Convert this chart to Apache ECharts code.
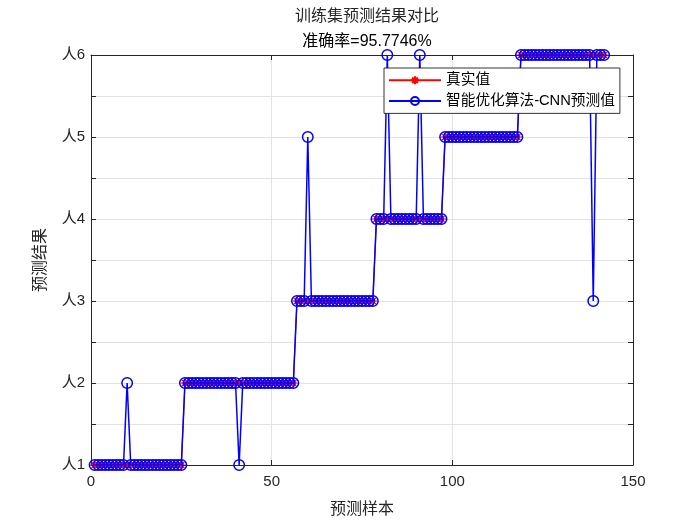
<!DOCTYPE html>
<html>
<head>
<meta charset="utf-8">
<script src="https://cdn.jsdelivr.net/npm/echarts@6/dist/echarts.min.js"></script>
<style>html,body{margin:0;padding:0;background:#fff}#c{width:700px;height:525px}</style>
</head>
<body>
<div id="c"></div>
<script>
const titleText = '训练集预测结果对比';
const subTitleText = '准确率=95.7746%';
const xName = '预测样本';
const yName = '预测结果';
const seriesNames = ['真实值', '智能优化算法-CNN预测值'];
const xTicks = [0, 50, 100, 150];
const yTickLabels = ['人1', '人2', '人3', '人4', '人5', '人6'];

const trueVals = [
  1,1,1,1,1,1,1,1,1,1,
  1,1,1,1,1,1,1,1,1,1,
  1,1,1,1,1,2,2,2,2,2,
  2,2,2,2,2,2,2,2,2,2,
  2,2,2,2,2,2,2,2,2,2,
  2,2,2,2,2,2,3,3,3,3,
  3,3,3,3,3,3,3,3,3,3,
  3,3,3,3,3,3,3,3,4,4,
  4,4,4,4,4,4,4,4,4,4,
  4,4,4,4,4,4,4,5,5,5,
  5,5,5,5,5,5,5,5,5,5,
  5,5,5,5,5,5,5,5,6,6,
  6,6,6,6,6,6,6,6,6,6,
  6,6,6,6,6,6,6,6,6,6,
  6,6
];
const predVals = [
  1,1,1,1,1,1,1,1,1,2,
  1,1,1,1,1,1,1,1,1,1,
  1,1,1,1,1,2,2,2,2,2,
  2,2,2,2,2,2,2,2,2,2,
  1,2,2,2,2,2,2,2,2,2,
  2,2,2,2,2,2,3,3,3,5,
  3,3,3,3,3,3,3,3,3,3,
  3,3,3,3,3,3,3,3,4,4,
  4,6,4,4,4,4,4,4,4,4,
  6,4,4,4,4,4,4,5,5,5,
  5,5,5,5,5,5,5,5,5,5,
  5,5,5,5,5,5,5,5,6,6,
  6,6,6,6,6,6,6,6,6,6,
  6,6,6,6,6,6,6,6,3,6,
  6,6
];

const FONT = 'Liberation Sans, "Noto Sans CJK SC", sans-serif';
const TXT = '#262626';
const starPath = 'path://M5,0L5,10M0,5L10,5M1.5,1.5L8.5,8.5M1.5,8.5L8.5,1.5';

const chart = echarts.init(document.getElementById('c'), null, {renderer: 'canvas'});
const gridL = 91, gridR = 67, gridT = 55, gridB = 60;
const plotCX = gridL + (700 - gridL - gridR) / 2;

function axLine() { return {show: true, onZero: false, lineStyle: {color: TXT, width: 1}}; }
function axTick() { return {show: true, inside: false, length: -5, lineStyle: {color: TXT, width: 1}}; }

chart.setOption({
  animation: false,
  backgroundColor: '#fff',
  title: [
    {text: titleText, left: plotCX, top: 4, textAlign: 'center',
     textStyle: {fontFamily: FONT, fontSize: 16, fontWeight: 'normal', color: TXT}},
    {text: subTitleText, left: plotCX, top: 29, textAlign: 'center',
     textStyle: {fontFamily: FONT, fontSize: 16, fontWeight: 'normal', color: '#000'}}
  ],
  legend: {
    orient: 'vertical', left: 384, top: 68,
    backgroundColor: '#fff', borderColor: '#000', borderWidth: 0.8,
    padding: [5, 5, 5, 4], itemGap: 6, itemWidth: 52, itemHeight: 10,
    textStyle: {fontFamily: FONT, fontSize: 14.7, color: '#000'},
    data: seriesNames
  },
  grid: {left: gridL, right: gridR, top: gridT, bottom: gridB},
  xAxis: [
    {
      type: 'value', min: xTicks[0], max: xTicks[xTicks.length - 1], interval: 50,
      name: xName, nameLocation: 'middle', nameGap: 37,
      nameTextStyle: {fontFamily: FONT, fontSize: 16, color: TXT},
      axisLine: axLine(), axisTick: axTick(),
      axisLabel: {fontFamily: FONT, fontSize: 15, color: TXT, margin: 9},
      splitLine: {show: true, lineStyle: {color: '#e3e3e3', width: 1}}
    },
    {
      type: 'value', position: 'top', min: xTicks[0], max: xTicks[xTicks.length - 1], interval: 50,
      axisLine: axLine(), axisTick: axTick(),
      axisLabel: {show: false}, splitLine: {show: false}
    }
  ],
  yAxis: [
    {
      type: 'value', position: 'left', min: 1, max: 6, interval: 0.5,
      name: yName, nameLocation: 'middle', nameGap: 42, nameRotate: 90,
      nameTextStyle: {fontFamily: FONT, fontSize: 16, color: TXT},
      axisLine: axLine(), axisTick: axTick(),
      axisLabel: {fontFamily: FONT, fontSize: 15, color: TXT, margin: 6,
        formatter: v => Number.isInteger(v) ? yTickLabels[v - 1] : ''},
      splitLine: {show: true, lineStyle: {color: '#e3e3e3', width: 1}}
    },
    {
      type: 'value', position: 'right', min: 1, max: 6, interval: 0.5,
      axisLine: axLine(), axisTick: axTick(),
      axisLabel: {show: false}, splitLine: {show: false}
    }
  ],
  series: [
    {
      name: seriesNames[0], type: 'line',
      data: trueVals.map((v, i) => [i + 1, v]),
      symbol: starPath, symbolSize: 9, showAllSymbol: true,
      lineStyle: {color: '#ff0000', width: 1.2},
      itemStyle: {color: 'rgba(0,0,0,0)', borderColor: '#ff0000', borderWidth: 1.2},
      z: 2
    },
    {
      name: seriesNames[1], type: 'line',
      data: predVals.map((v, i) => [i + 1, v]),
      symbol: 'circle', symbolSize: 10.5, showAllSymbol: true,
      lineStyle: {color: '#0000ff', width: 1.5},
      itemStyle: {color: 'rgba(0,0,0,0)', borderColor: '#0000ff', borderWidth: 1.5},
      z: 3
    }
  ]
});
</script>
</body>
</html>
